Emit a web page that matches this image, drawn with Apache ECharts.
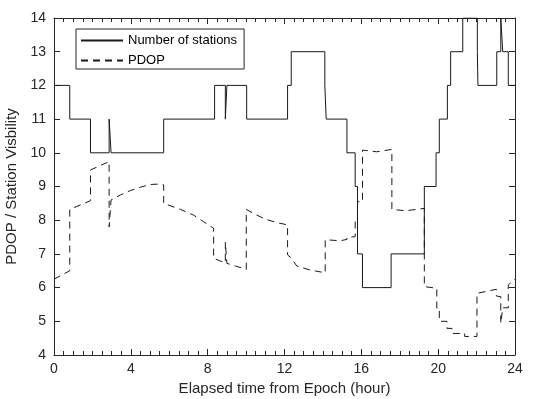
<!DOCTYPE html>
<html>
<head>
<meta charset="utf-8">
<script src="https://cdn.jsdelivr.net/npm/echarts@6/dist/echarts.min.js"></script>
<style>
  html, body { margin: 0; background: #fff; }
  #chart { width: 539px; height: 399px; }
</style>
</head>
<body>
<div id="chart"></div>
<script>
// visible stations: stationCount[i] holds from stationTime[i] to stationTime[i + 1]
const stationTime = [0, 0.82, 1.9, 2.87, 2.97, 5.71, 8.36, 8.92, 9.0, 10.03,
  12.16, 12.35, 14.1, 14.17, 15.25, 15.68, 15.8, 16.06, 17.55, 19.28,
  19.89, 20.06, 20.48, 20.65, 21.28, 22.04, 22.07, 23.05, 23.26, 23.36,
  23.65, 24]
const stationCount = [12, 11, 10, 11, 10, 11, 12, 11, 12, 11,
  12, 13, 12, 11, 10, 9, 7, 6, 7, 9,
  10, 11, 12, 13, 14, 13, 12, 13, 14, 13,
  12, 12]

// PDOP samples (a repeated time is a jump)
const pdopTime = [0, 0.82, 0.82, 1.9, 1.9, 2.87, 2.87, 2.97, 2.97, 3.46,
  3.98, 4.5, 5.02, 5.4, 5.71, 5.71, 6.58, 7.27, 7.8, 8.31,
  8.31, 8.6, 8.92, 8.92, 9.0, 9.0, 9.44, 10.01, 10.01, 10.39,
  11.0, 11.6, 12.16, 12.16, 12.35, 12.64, 13.34, 14.12, 14.12, 14.9,
  15.25, 15.25, 15.68, 15.68, 15.8, 15.8, 16.06, 16.06, 16.8, 17.59,
  17.59, 18.3, 19.28, 19.28, 19.93, 19.93, 20.06, 20.06, 20.46, 20.46,
  20.72, 20.72, 21.38, 21.38, 22.02, 22.02, 23.03, 23.03, 23.26, 23.26,
  23.36, 23.36, 23.65, 23.65, 24]
const pdopValue = [6.25, 6.5, 8.32, 8.58, 9.49, 9.74, 7.8, 7.85, 8.6, 8.75,
  8.88, 8.98, 9.06, 9.07, 9.05, 8.5, 8.32, 8.15, 7.95, 7.76,
  6.87, 6.8, 6.74, 7.35, 7.33, 6.72, 6.64, 6.54, 8.32, 8.2,
  8.03, 7.93, 7.86, 6.97, 6.88, 6.64, 6.52, 6.44, 7.42, 7.39,
  7.43, 7.49, 7.51, 8.0, 8.0, 8.55, 8.55, 10.08, 10.03, 10.1,
  8.32, 8.28, 8.35, 6.03, 5.98, 5.36, 5.36, 5.0, 5.0, 4.79,
  4.79, 4.64, 4.64, 4.55, 4.55, 5.83, 5.95, 5.75, 5.73, 4.94,
  4.94, 5.4, 5.4, 6.08, 6.25]

const axisColor = '#262626'
const font = 'Liberation Sans'

const chart = echarts.init(document.getElementById('chart'))

function frameX(position, showLabel) {
  return {
    type: 'value',
    position: position,
    min: 0,
    max: 24,
    interval: 4,
    axisLine: { show: true, onZero: false, lineStyle: { color: axisColor, width: 1 } },
    axisTick: { show: true, inside: true, length: 6, lineStyle: { color: axisColor, width: 1 } },
    minorTick: { show: true, splitNumber: 8, length: 4, lineStyle: { color: axisColor, width: 1 } },
    splitLine: { show: false },
    axisLabel: { show: showLabel, color: axisColor, fontFamily: font, fontSize: 14, margin: 7 },
  }
}

function frameY(position, showLabel) {
  return {
    type: 'value',
    position: position,
    min: 4,
    max: 14,
    interval: 1,
    axisLine: { show: true, onZero: false, lineStyle: { color: axisColor, width: 1 } },
    axisTick: { show: true, inside: true, length: 6, lineStyle: { color: axisColor, width: 1 } },
    splitLine: { show: false },
    axisLabel: { show: showLabel, color: axisColor, fontFamily: font, fontSize: 14, margin: 8 },
  }
}

const xBottom = frameX('bottom', true)
xBottom.name = 'Elapsed time from Epoch (hour)'
xBottom.nameLocation = 'middle'
xBottom.nameGap = 25
xBottom.nameTextStyle = { color: axisColor, fontFamily: font, fontSize: 15 }

const yLeft = frameY('left', true)
yLeft.name = 'PDOP / Station Visbility'
yLeft.nameLocation = 'middle'
yLeft.nameGap = 29
yLeft.nameTextStyle = { color: axisColor, fontFamily: font, fontSize: 15 }

chart.setOption({
  animation: false,
  backgroundColor: '#fff',
  grid: { left: 54, right: 24, top: 18, bottom: 44, containLabel: false, outerBoundsMode: 'none' },
  xAxis: [xBottom, frameX('top', false)],
  yAxis: [yLeft, frameY('right', false)],
  legend: {
    data: ['Number of stations', 'PDOP'],
    orient: 'vertical',
    left: 76,
    top: 29,
    itemWidth: 42,
    itemHeight: 12,
    itemGap: 7,
    padding: [5, 7, 2, 4],
    borderColor: axisColor,
    borderWidth: 1,
    borderRadius: 0,
    backgroundColor: '#fff',
    itemStyle: { opacity: 0 },
    textStyle: { color: '#000', fontFamily: font, fontSize: 13 },
  },
  series: [
    {
      name: 'Number of stations',
      type: 'line',
      step: 'end',
      symbol: 'none',
      data: stationTime.map((t, i) => [t, stationCount[i]]),
      lineStyle: { color: '#1a1a1a', width: 1 },
      itemStyle: { color: '#1a1a1a' },
    },
    {
      name: 'PDOP',
      type: 'line',
      symbol: 'none',
      data: pdopTime.map((t, i) => [t, pdopValue[i]]),
      lineStyle: { color: '#1a1a1a', width: 1, type: [7, 5] },
      itemStyle: { color: '#1a1a1a' },
    },
  ],
})
</script>
</body>
</html>
